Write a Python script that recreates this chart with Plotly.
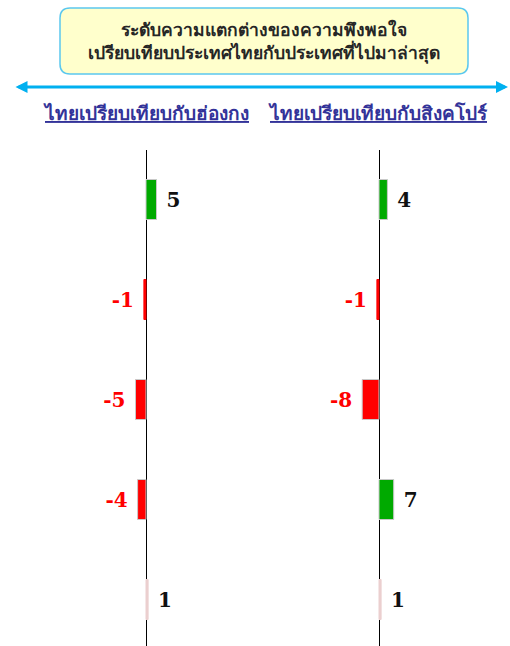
import plotly.graph_objects as go

# rows top to bottom
rows = [1, 2, 3, 4, 5]
hk_values = [5, -1, -5, -4, 1]   # ไทยเปรียบเทียบกับฮ่องกง
sg_values = [4, -1, -8, 7, 1]    # ไทยเปรียบเทียบกับสิงคโปร์

title_lines = ["ระดับความแตกต่างของความพึงพอใจ", "เปรียบเทียบประเทศไทยกับประเทศที่ไปมาล่าสุด"]
hk_title = "ไทยเปรียบเทียบกับฮ่องกง"
sg_title = "ไทยเปรียบเทียบกับสิงคโปร์"

W, H = 510, 646


def bar_color(v):
    if v >= 2:
        return "#00AA00"
    if v <= -1:
        return "#FF0000"
    return "#EBCFCF"


def edge_color(v):
    # thin bars: no grey edge, it would swallow the fill
    if abs(v) <= 1:
        return bar_color(v)
    return "#C8C8C8"


def label(v):
    if v < 0:
        return f"{v}\u00a0"
    return f"\u00a0{v}"


def make_bar(vals, xa, ya):
    return go.Bar(
        x=vals, y=rows, orientation="h", width=0.4,
        marker=dict(color=[bar_color(v) for v in vals],
                    line=dict(color=[edge_color(v) for v in vals], width=1)),
        text=[label(v) for v in vals],
        textposition="outside", cliponaxis=False,
        textfont=dict(family="DejaVu Serif", size=20, weight="bold",
                      color=["#FF0000" if v < 0 else "#111111" for v in vals]),
        xaxis=xa, yaxis=ya, showlegend=False, hoverinfo="skip",
    )


fig = go.Figure()
fig.add_trace(make_bar(hk_values, "x", "y"))
fig.add_trace(make_bar(sg_values, "x2", "y2"))

s = 2.1  # px per unit
ydom = [0, (H - 150) / H]
yr = [5.465, 0.505]
ax_common = dict(showgrid=False, showticklabels=False, zeroline=True,
                 zerolinecolor="black", zerolinewidth=1, showline=False, ticks="")
fig.update_layout(
    width=W, height=H,
    margin=dict(l=0, r=0, t=0, b=0),
    paper_bgcolor="white", plot_bgcolor="white",
    xaxis=dict(domain=[0, 0.5], range=[-146 / s, 109 / s], **ax_common),
    xaxis2=dict(domain=[0.5, 1], range=[-124 / s, 131 / s], **ax_common),
    yaxis=dict(domain=ydom, range=yr, showgrid=False, showticklabels=False, zeroline=False),
    yaxis2=dict(domain=ydom, range=yr, showgrid=False, showticklabels=False, zeroline=False,
                anchor="x2"),
    font=dict(family="Tahoma, Noto Sans, DejaVu Sans"),
)

# rounded title box
x0, x1 = 60 / W, 468 / W
y0, y1 = 1 - 74 / H, 1 - 8 / H
rx, ry = 10 / W, 10 / H
path = (f"M {x0+rx},{y1} L {x1-rx},{y1} Q {x1},{y1} {x1},{y1-ry} "
        f"L {x1},{y0+ry} Q {x1},{y0} {x1-rx},{y0} L {x0+rx},{y0} "
        f"Q {x0},{y0} {x0},{y0+ry} L {x0},{y1-ry} Q {x0},{y1} {x0+rx},{y1} Z")
fig.add_shape(type="path", path=path, xref="paper", yref="paper",
              fillcolor="#FFFFCC", line=dict(color="#5BC8EE", width=1.5))

fig.add_annotation(x=0.5 * (x0 + x1), y=1 - 40 / H, xref="paper", yref="paper",
                   xanchor="center", yanchor="middle",
                   text="<b>" + "<br>".join(title_lines) + "</b>", showarrow=False,
                   font=dict(size=17.5, color="#262626"), align="center")

# double headed arrow
fig.add_annotation(x=(W - 2) / W, y=1 - 87 / H, xref="paper", yref="paper",
                   ax=-(W - 16), ay=0, text="", showarrow=True,
                   arrowside="end+start", arrowhead=2, arrowsize=0.8,
                   arrowwidth=3, arrowcolor="#00B0F0")

for txt, cx in [(hk_title, 146), (sg_title, 378)]:
    fig.add_annotation(x=cx / W, y=1 - 113 / H, xref="paper", yref="paper",
                       xanchor="center", yanchor="middle",
                       text=f"<b>{txt}</b>", showarrow=False,
                       font=dict(size=19, color="#333399", lineposition="under"))

fig.write_html("out.html", config={"displayModeBar": False},
               post_script="document.body.style.margin='0px';")
